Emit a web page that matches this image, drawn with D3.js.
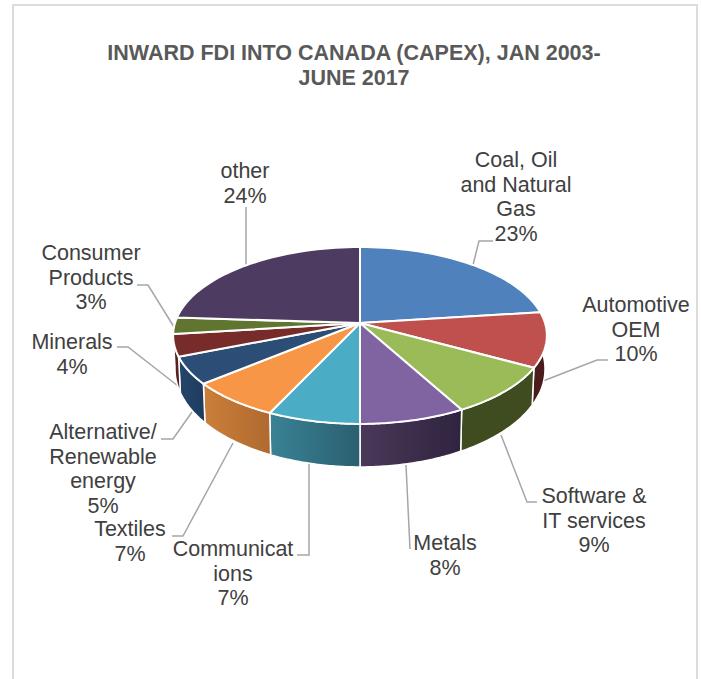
<!DOCTYPE html>
<html>
<head>
<meta charset="utf-8">
<style>
  html, body { margin: 0; padding: 0; background: #fff; }
  svg { display: block; }
  text { font-family: "Liberation Sans", Arial, sans-serif; }
</style>
<script src="https://d3js.org/d3.v7.min.js"></script>
</head>
<body>
<svg id="chart" width="701" height="679"></svg>
<script>
// FDI shares by sector, clockwise from twelve o'clock
const categories = ["Coal, Oil and Natural Gas", "Automotive OEM", "Software & IT services", "Metals",
  "Communications", "Textiles", "Alternative/ Renewable energy", "Minerals", "Consumer Products", "other"];
const shares = [23, 10, 9, 8, 7, 7, 5, 4, 3, 24];
const labelLines = [
  ["Coal, Oil", "and Natural", "Gas"], ["Automotive", "OEM"], ["Software &", "IT services"], ["Metals"],
  ["Communicat", "ions"], ["Textiles"], ["Alternative/", "Renewable", "energy"], ["Minerals"],
  ["Consumer", "Products"], ["other"]
];
const topColors = ["#4F81BD", "#C0504D", "#9BBB59", "#8064A2", "#4BACC6", "#F79646", "#2C4D75", "#772C2A", "#5F7530", "#4D3B62"];
const rimFrom = ["#2f4d72", "#4c1c1c", "#3f4c20", "#4a3858", "#3a8296", "#cb7f39", "#24466b", "#5a2020", "#47581f", "#3a2c4a"];
const rimTo = ["#2f4d72", "#4c1c1c", "#3f4c20", "#2f2440", "#2a5f70", "#b06a30", "#1f3c60", "#5a2020", "#47581f", "#3a2c4a"];
const titleLines = ["INWARD FDI INTO CANADA (CAPEX), JAN 2003-", "JUNE 2017"];

// Label anchor (centre x, first baseline) and leader polyline for each sector
const labelAnchors = [[516, 167], [636, 312], [594, 503], [445, 550], [233, 556], [130, 536], [103, 439], [72, 349], [91, 260], [245, 178]];
const leaders = [
  [[473, 265], [479, 241], [493, 241]],
  [[543, 381], [597, 360], [608, 360]],
  [[501, 435], [527, 502], [537, 502]],
  [[406, 465], [410, 549]],
  [[309, 464], [309, 555], [297, 555]],
  [[233, 443], [183, 536], [172, 536]],
  [[192, 412], [173, 439], [161, 439]],
  [[178, 386], [128, 347], [117, 347]],
  [[174, 327], [148, 285], [137, 285]],
  [[246, 267], [246, 207]]
];

const svg = d3.select("#chart");
const defs = svg.append("defs");

// Card outline, open at the bottom of the page
svg.append("path")
  .attr("d", "M13,679V5H697V679")
  .attr("fill", "none").attr("stroke", "#dcdcdc").attr("stroke-width", 2);

// Title
const title = svg.append("g").attr("fill", "#595959").attr("font-weight", "bold").attr("text-anchor", "middle");
titleLines.forEach((line, i) => {
  title.append("text").attr("x", 354).attr("y", 60 + i * 25).attr("font-size", 21.5).text(line);
});

// Tilted disc: a projective map of the unit circle, with the far side foreshortened
const cx = 360, cy = 323, spanX = 185, spanY = 86.7, tilt = 0.141;
const project = a => {
  const X = Math.sin(a), Y = Math.cos(a), w = 1 + tilt * Y;
  return [cx + spanX * X / w, cy - spanY * Y / w];
};
// Matching point on the lower rim of the disc
const projectLow = a => {
  const [x, y] = project(a);
  return [cx + (x - cx) * 0.99, y + 32 + 11 * Math.max(0, -Math.cos(a))];
};

const arcs = d3.pie().sort(null).value(d => d)(shares);
const samples = (a0, a1) => d3.range(0, 41).map(i => a0 + (a1 - a0) * i / 40);
const line = d3.line();

// Leaders run underneath the disc
svg.append("g").selectAll("path").data(leaders).join("path")
  .attr("d", d => line(d))
  .attr("fill", "none").attr("stroke", "#a6a6a6").attr("stroke-width", 1.5);

// Rim faces for the part of the disc that faces the viewer
const rimMin = Math.PI * 0.5, rimMax = 263 * Math.PI / 180;
const rim = svg.append("g");
arcs.forEach((d, i) => {
  const a0 = Math.max(d.startAngle, rimMin), a1 = Math.min(d.endAngle, rimMax);
  if (a1 - a0 < 0.02) return;
  const pts = samples(a0, a1);
  const upper = pts.map(project), lower = pts.map(projectLow).reverse();
  const xs = upper.map(p => p[0]);
  const grad = defs.append("linearGradient").attr("id", "rim" + i)
    .attr("gradientUnits", "userSpaceOnUse")
    .attr("x1", d3.min(xs)).attr("x2", d3.max(xs)).attr("y1", 0).attr("y2", 0);
  grad.append("stop").attr("offset", 0).attr("stop-color", rimFrom[i]);
  grad.append("stop").attr("offset", 1).attr("stop-color", rimTo[i]);
  rim.append("path")
    .attr("d", line(upper.concat(lower)) + "Z")
    .attr("fill", `url(#rim${i})`)
    .attr("stroke", "#fff").attr("stroke-width", 1.5).attr("stroke-linejoin", "round");
});

// Top faces
svg.append("g").selectAll("path").data(arcs).join("path")
  .attr("d", d => line([[cx, cy]].concat(samples(d.startAngle, d.endAngle).map(project))) + "Z")
  .attr("fill", (d, i) => topColors[i])
  .attr("stroke", "#fff").attr("stroke-width", 2).attr("stroke-linejoin", "round");

// Data labels: sector name followed by its share
const labels = svg.append("g").attr("fill", "#404040").attr("text-anchor", "middle").attr("font-size", 21.5);
categories.forEach((c, i) => {
  const [x, y] = labelAnchors[i];
  labelLines[i].concat(shares[i] + "%").forEach((t, j) => {
    labels.append("text").attr("x", x).attr("y", y + j * 24.5).text(t);
  });
});
</script>
</body>
</html>
